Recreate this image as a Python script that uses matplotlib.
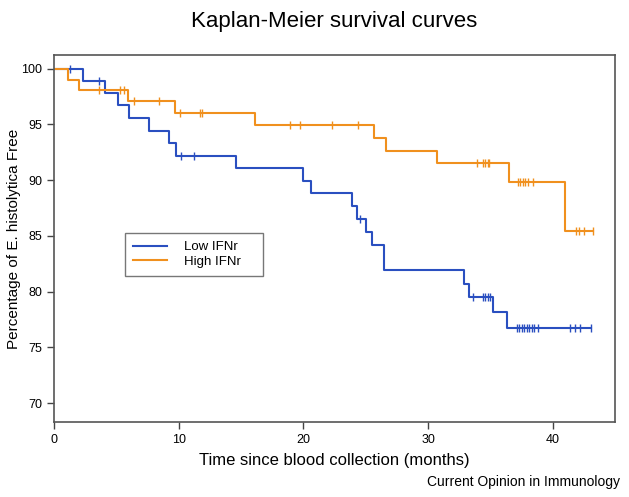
import numpy as np
import matplotlib
matplotlib.use('Agg')
import matplotlib.pyplot as plt

plt.rcParams['font.family'] = ['Liberation Sans', 'DejaVu Sans']

# step curves: event times (months) and survival (%) after each step
low_t = [0, 2.35, 4.1, 5.1, 6.0, 7.6, 9.2, 9.8, 14.6, 20.0, 20.6, 23.9, 24.3,
         25.0, 25.5, 26.5, 32.9, 33.3, 35.2, 36.35]
low_s = [100, 98.9, 97.8, 96.7, 95.6, 94.4, 93.3, 92.2, 91.05, 89.9, 88.8, 87.7,
         86.5, 85.3, 84.2, 81.9, 80.7, 79.5, 78.2, 76.7]
low_end = 43.1
low_cens = [1.3, 3.6, 10.2, 11.2, 24.5, 33.6, 34.4, 34.6, 34.8, 35.0,
            37.1, 37.3, 37.5, 37.7, 37.9, 38.1, 38.3, 38.5, 38.8,
            41.4, 41.8, 42.2, 43.1]

high_t = [0, 1.15, 2.0, 5.9, 9.7, 16.1, 25.7, 26.6, 30.7, 36.5, 41.0]
high_s = [100, 99.0, 98.1, 97.05, 96.0, 94.9, 93.8, 92.6, 91.5, 89.85, 85.4]
high_end = 43.2
high_cens = [3.6, 5.3, 5.6, 6.4, 8.4, 10.1, 11.7, 11.9, 18.9, 19.7, 22.3, 24.4,
             33.9, 34.4, 34.6, 34.8, 34.9, 37.2, 37.4, 37.6, 37.8, 38.0, 38.4,
             41.9, 42.1, 42.5, 43.2]

blue = '#2a4fc0'
orange = '#f0901e'

fig = plt.figure(figsize=(6.29, 4.97), dpi=100)
ax = fig.add_axes([0.0859, 0.151, 0.892, 0.738])


def draw(t, s, end, cens, col, lab):
    tt = list(t) + [end]
    ss = list(s) + [s[-1]]
    ax.step(tt, ss, where='post', color=col, lw=1.5, label=lab)
    idx = np.searchsorted(t, cens, side='right') - 1
    ax.plot(cens, np.array(s)[idx], ls='none', marker='|', ms=6, mew=1.0, color=col)


draw(low_t, low_s, low_end, low_cens, blue, 'Low IFNr')
draw(high_t, high_s, high_end, high_cens, orange, 'High IFNr')

ax.set_xlim(0, 45)
ax.set_ylim(68.3, 101.2)
ax.set_xticks([0, 10, 20, 30, 40])
ax.set_yticks([70, 75, 80, 85, 90, 95, 100])
ax.tick_params(direction='out', length=5, width=1, colors='#444444', labelsize=9,
               labelcolor='black')
for sp in ax.spines.values():
    sp.set_color('#555555')
    sp.set_linewidth(1.2)

ax.set_title('Kaplan-Meier survival curves', fontsize=16, pad=20)
ax.set_xlabel('Time since blood collection (months)', fontsize=12, labelpad=5)
ax.set_ylabel('Percentage of E. histolytica Free', fontsize=11)
ax.yaxis.set_label_coords(-0.058, 0.5)

leg = ax.legend(loc='lower left', bbox_to_anchor=(0.114, 0.38, 0.271, 0.117),
                mode='expand', fontsize=9.5, handlelength=2.6, handletextpad=1.3,
                labelspacing=0.2, borderpad=0.6, fancybox=False, frameon=True)
leg.get_frame().set_edgecolor('#555555')
leg.get_frame().set_linewidth(1.0)

fig.text(0.986, 0.03, 'Current Opinion in Immunology', ha='right', va='center', fontsize=10)

fig.savefig('out.png', dpi=100)
